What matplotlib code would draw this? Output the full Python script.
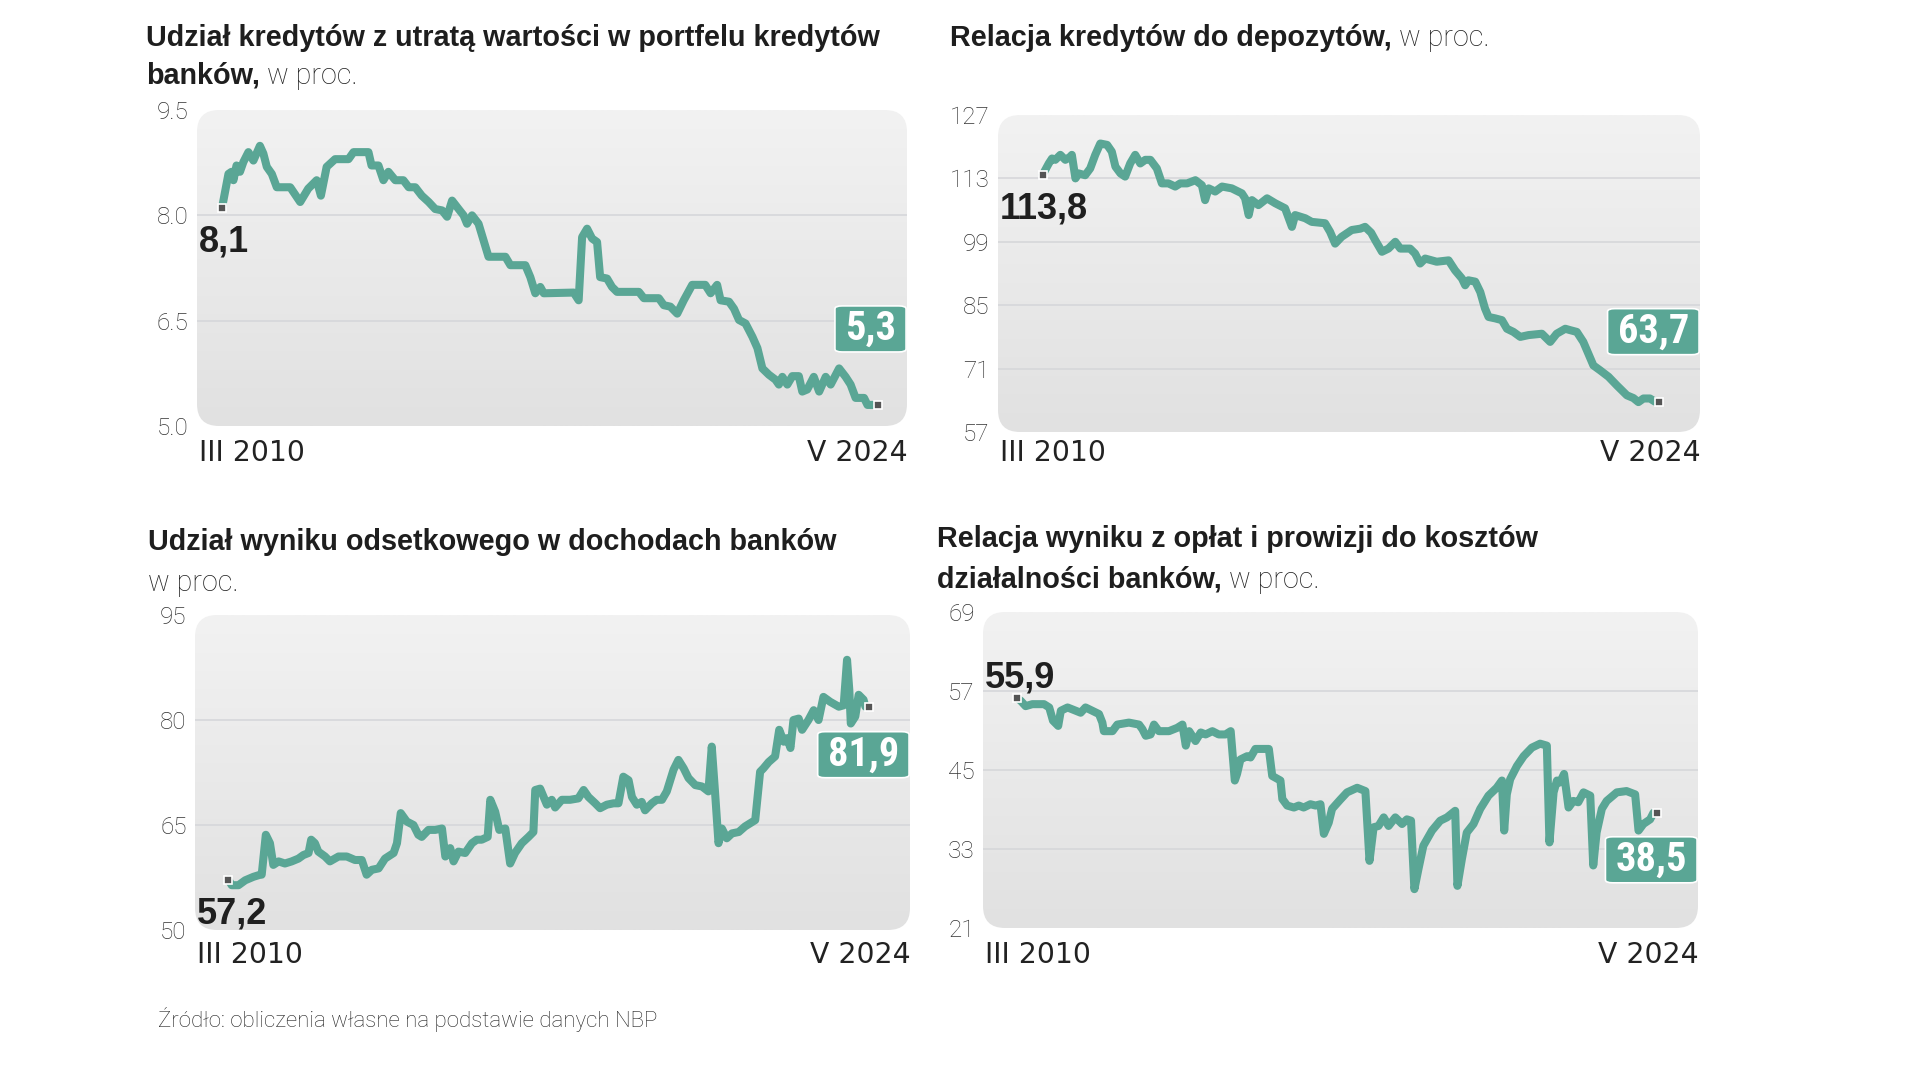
import os
import numpy as np
import matplotlib
matplotlib.use('Agg')
import matplotlib.pyplot as plt
import matplotlib.transforms as mtransforms
from matplotlib.patches import FancyBboxPatch
from matplotlib.colors import LinearSegmentedColormap
from matplotlib import font_manager

# ------------------------------------ Fonts ------------------------------------
names = {f.name for f in font_manager.fontManager.ttflist}
SANS = 'Liberation Sans' if 'Liberation Sans' in names else 'DejaVu Sans'
LIGHT = 'Roboto' if 'Roboto' in names else SANS


def condensed_bold():
    # look for any condensed / narrow bold face among the installed files
    wanted = ['liberationsansnarrow-bold.', 'robotocondensed-bold.', 'notosans-condensedbold.',
              'opensans-condensedbold.', 'dejavusanscondensed-bold.']
    files = [f.fname for f in font_manager.fontManager.ttflist]
    for key in wanted:
        for fn in files:
            if os.path.basename(fn).lower().startswith(key):
                return fn
    return None


COND_FILE = condensed_bold()

# ------------------------------------ Data -------------------------------------
# x = months since III 2010 (0) up to V 2024 (170)
npl_share = [(0, 8.1), (1.7, 8.59), (2.5, 8.62), (3, 8.5), (3.8, 8.71), (4.7, 8.62), (5.6, 8.76),
             (6.9, 8.9), (8.2, 8.78), (9.9, 8.99), (10.8, 8.88), (11.7, 8.69), (13, 8.59), (14.3, 8.4),
             (17.8, 8.4), (20.4, 8.19), (22.5, 8.38), (24.7, 8.5), (25.8, 8.28), (27.3, 8.69), (29.5, 8.8),
             (33, 8.8), (34.3, 8.9), (38.2, 8.9), (39, 8.71), (40.8, 8.71), (42.1, 8.5), (43.4, 8.62),
             (45.2, 8.5), (47.3, 8.5), (48.7, 8.4), (50.4, 8.4), (52.1, 8.28), (53.9, 8.19), (55.6, 8.09),
             (57.4, 8.07), (58.7, 7.98), (60, 8.21), (61.7, 8.09), (63, 8.0), (63.9, 7.88), (65.2, 8.0),
             (66.9, 7.88), (69.5, 7.41), (73.9, 7.41), (75.2, 7.29), (79.1, 7.29), (80.4, 7.12), (81.7, 6.89),
             (83, 6.98), (83.9, 6.89), (91.7, 6.9), (93, 6.79), (93.9, 7.69), (95.2, 7.81), (96.5, 7.67),
             (97.8, 7.62), (98.6, 7.12), (100.4, 7.1), (101.7, 6.98), (103, 6.91), (108.7, 6.91), (110, 6.82),
             (113.9, 6.82), (115.2, 6.72), (116.9, 6.7), (118.7, 6.6), (120.4, 6.79), (122.6, 7.01), (126, 7.01),
             (127.4, 6.89), (129.1, 7.01), (130, 6.79), (132.2, 6.77), (133.5, 6.67), (134.8, 6.51), (136.5, 6.46),
             (138.3, 6.27), (139.6, 6.11), (140.9, 5.82), (142.6, 5.73), (144.3, 5.66), (145.2, 5.59), (146.1, 5.7),
             (147.4, 5.59), (148.7, 5.71), (150.4, 5.71), (151.3, 5.49), (152.6, 5.52), (154.3, 5.7), (155.7, 5.49),
             (157.4, 5.7), (158.7, 5.59), (160.9, 5.82), (162.6, 5.7), (163.9, 5.59), (165.2, 5.4), (167.4, 5.4),
             (168.3, 5.3), (170, 5.3)]

loan_deposit = [(0, 113.8), (1.7, 116.3), (2.6, 117.4), (3.5, 117.1), (4.9, 118.2), (6.3, 117.1), (7.7, 117.8),
                (8.1, 118.2), (9.1, 113.0), (10, 114.1), (11.8, 113.7), (13.2, 115.2), (14.6, 118.2), (16, 120.7),
                (17.9, 120.4), (19.2, 118.9), (20.2, 115.6), (21.6, 114.1), (22.9, 113.4), (24.3, 116.3),
                (25.7, 118.2), (27.1, 116.3), (28.5, 117.1), (29.9, 117.1), (31.7, 115.2), (33.1, 111.9),
                (34.9, 111.9), (36.8, 111.2), (38.2, 111.9), (40.1, 111.9), (42.4, 112.6), (44.2, 111.5),
                (45.1, 108.2), (46.1, 110.8), (47.9, 110.1), (49.8, 111.2), (52.5, 110.8), (55.3, 109.7),
                (56.2, 108.6), (57.2, 104.9), (58.1, 108.2), (59.9, 107.1), (62.3, 108.6), (64.6, 107.5),
                (67.3, 106.4), (69.2, 102.3), (70.1, 104.9), (72.9, 104.2), (74.7, 103.4), (78.4, 103.1),
                (79.8, 101.2), (81.2, 98.6), (83, 100.1), (85.8, 101.6), (88.2, 101.9), (89.5, 102.3),
                (91.2, 101.0), (92.3, 99.4), (94.2, 96.8), (96, 97.5), (97.9, 99.0), (99.3, 97.5), (102, 97.5),
                (103.4, 96.4), (104.8, 94.2), (106.2, 95.3), (109.4, 94.6), (112.7, 94.9), (114.5, 92.7),
                (116.4, 90.9), (117.3, 89.4), (118.2, 90.5), (120.1, 90.2), (121.5, 87.9), (122.8, 84.3),
                (123.8, 82.4), (125.6, 82.1), (127.5, 81.7), (128.9, 79.8), (130.7, 79.1), (132.6, 78.0),
                (134.9, 78.4), (138.6, 78.7), (140, 77.6), (140.9, 76.9), (142.7, 78.7), (145.1, 79.8),
                (146.4, 79.5), (148.3, 79.1), (150.1, 76.9), (151.5, 74.3), (152.9, 71.7), (154.8, 70.6),
                (157.1, 69.2), (159.4, 67.3), (162.2, 65.1), (164, 64.5), (165.4, 63.6), (166.8, 64.4),
                (168.6, 64.4), (170, 63.7)]

nii_share = [(0, 57.2), (0.9, 56.4), (2.7, 56.4), (4.5, 57.1), (6.7, 57.6), (8.5, 57.9), (8.9, 57.9), (10, 63.6),
             (11.1, 62.4), (12, 59.3), (13.4, 59.8), (15.1, 59.5), (16.9, 59.8), (18.7, 60.2), (20, 60.7),
             (21.4, 61.0), (22.1, 62.9), (23.1, 62.4), (24, 61.2), (25.8, 60.5), (27.1, 59.8), (29.4, 60.5),
             (31.6, 60.5), (33.8, 60.0), (35.6, 60.0), (36.9, 57.9), (38.3, 58.6), (40.1, 58.8), (41.8, 60.2),
             (44.1, 61.0), (45, 62.4), (46, 66.7), (47.6, 65.5), (49.4, 65.0), (50.7, 63.6), (51.6, 63.3),
             (53.4, 64.3), (55.2, 64.3), (57, 64.5), (57.9, 60.5), (59.2, 61.7), (60.1, 59.8), (61.4, 61.2),
             (63.2, 61.0), (65, 62.4), (66.3, 62.9), (67.6, 62.9), (69.2, 63.3), (69.9, 68.6), (71.2, 66.9),
             (72.3, 64.3), (73.9, 64.5), (75.2, 59.5), (76.5, 61.0), (78.3, 62.4), (80.1, 63.3), (81.4, 64.0),
             (81.9, 70.0), (83.2, 70.2), (85, 67.9), (86.3, 68.6), (87.2, 67.5), (89, 68.6), (91.2, 68.6),
             (93.4, 68.8), (94.8, 70.0), (96.1, 69.0), (97.9, 68.1), (99.2, 67.4), (101, 67.9), (102.8, 68.1),
             (104.1, 68.1), (105.4, 71.9), (106.8, 71.4), (107.7, 69.0), (109, 67.9), (110.3, 68.3),
             (111.2, 67.1), (113, 68.1), (114.3, 68.6), (115.7, 68.6), (117, 69.8), (118.8, 72.9), (120.1, 74.3),
             (121.5, 73.1), (122.8, 71.7), (124.6, 70.7), (126.4, 70.5), (128.1, 69.8), (129, 76.2),
             (129.9, 69.5), (130.8, 62.4), (131.7, 64.5), (133, 63.1), (134.4, 63.8), (136.2, 64.0),
             (137.9, 64.8), (140.6, 65.7), (141.9, 72.6), (142.8, 73.1), (144.2, 74.0), (145.9, 74.8),
             (147, 78.6), (148.2, 76.9), (149.1, 77.4), (150, 76.0), (150.8, 80.0), (152.2, 80.2), (153.1, 78.6),
             (154.8, 80.0), (156.2, 81.4), (157.5, 80.0), (158.8, 83.3), (160.6, 82.6), (162.9, 81.9),
             (164.2, 82.1), (165.1, 88.6), (165.7, 84.3), (166.1, 79.5), (167.3, 80.5), (168.2, 83.6),
             (169.5, 82.9), (170, 81.9)]

fee_cost = [(0, 55.9), (0.9, 55.5), (2.2, 54.7), (4, 55.0), (7.1, 55.0), (8.5, 54.5), (9.5, 52.5), (10.9, 51.7),
            (11.6, 54.0), (13.4, 54.5), (15.6, 54.0), (16.9, 53.7), (18.2, 54.5), (20, 54.0), (21.8, 53.5),
            (22.7, 52.2), (23.1, 50.9), (25.4, 50.9), (26.7, 51.9), (29.8, 52.2), (32.5, 51.9), (33.4, 51.2),
            (34.3, 50.2), (35.6, 50.4), (36.5, 51.9), (37.8, 50.9), (40.5, 50.9), (42.7, 51.4), (44.1, 51.9),
            (45, 48.7), (45.9, 50.9), (47.6, 49.4), (49, 50.7), (50.3, 50.4), (52.1, 50.9), (53.8, 50.4),
            (55.6, 50.4), (57, 50.9), (58.1, 43.4), (58.7, 44.4), (59.6, 46.6), (61.4, 47.1), (62.3, 46.9),
            (63.6, 48.2), (65.4, 48.2), (67.2, 48.2), (68.1, 44.1), (70.3, 43.4), (70.8, 40.6), (72.1, 39.6),
            (73.9, 39.3), (75.2, 39.6), (76.5, 39.3), (78.3, 39.8), (79.7, 39.6), (81, 39.8), (81.9, 35.3),
            (83.2, 37.0), (84.1, 39.1), (86.3, 40.5), (88.1, 41.6), (90.8, 42.3), (93, 41.8), (94.1, 31.2),
            (95.2, 36.3), (96.5, 36.5), (97.9, 37.8), (99.2, 36.5), (101, 37.8), (102.8, 36.8), (104.1, 37.5),
            (105.2, 37.3), (106.1, 26.9), (107.2, 30.0), (108.5, 33.5), (110.8, 35.8), (113, 37.3),
            (114.8, 37.8), (117, 38.8), (117.6, 27.4), (118.8, 31.5), (120.1, 35.5), (121.9, 36.8),
            (123.7, 39.1), (125.9, 41.1), (128.1, 42.3), (129.5, 43.4), (130.1, 35.8), (130.8, 41.3),
            (131.7, 43.6), (133.5, 45.6), (135.3, 47.1), (137.5, 48.4), (139.7, 49.0), (141.5, 48.7),
            (142.2, 34.0), (143.3, 41.6), (144.2, 43.4), (145, 43.1), (146.1, 44.4), (147.3, 39.3),
            (148.6, 40.3), (149.9, 40.1), (151.3, 41.6), (153.1, 41.1), (153.9, 30.5), (154.8, 35.5),
            (156.2, 39.1), (157.5, 40.3), (160.2, 41.6), (162.8, 41.8), (165.1, 41.3), (166, 35.8),
            (167.3, 36.8), (169.1, 37.5), (170, 38.5)]

y_ticks = [[5.0, 6.5, 8.0, 9.5], [57, 71, 85, 99, 113, 127], [50, 65, 80, 95], [21, 33, 45, 57, 69]]
y_tick_labels = [['5.0', '6.5', '8.0', '9.5'], ['57', '71', '85', '99', '113', '127'],
                 ['50', '65', '80', '95'], ['21', '33', '45', '57', '69']]
start_labels = ['8,1', '113,8', '57,2', '55,9']
end_labels = ['5,3', '63,7', '81,9', '38,5']
x_labels = ('III 2010', 'V 2024')
titles = [
    [[('Udział kredytów z utratą wartości w portfelu kredytów', 'bold')], [('banków,', 'bold'), ('w proc.', 'light')]],
    [[('Relacja kredytów do depozytów,', 'bold'), ('w proc.', 'light')]],
    [[('Udział wyniku odsetkowego w dochodach banków', 'bold')], [('w proc.', 'light')]],
    [[('Relacja wyniku z opłat i prowizji do kosztów', 'bold')], [('działalności banków,', 'bold'), ('w proc.', 'light')]],
]
source = 'Źródło: obliczenia własne na podstawie danych NBP'
series = [npl_share, loan_deposit, nii_share, fee_cost]

# ------------------------------------ Layout (pixels) --------------------------
W, H, DPI = 1920, 1080, 100
TEAL = '#5aa695'
# axes box: left, top, width, height
boxes = [(197, 110, 710, 316), (998, 115, 702, 317), (195, 615, 715, 315), (983, 612, 715, 316)]
xlims = [(-6.5, 178.6), (-12.4, 182.5), (-8.9, 181.9), (-9.2, 181.9)]
title_pos = [(146, [46, 84]), (950, [46]), (148, [550, 591]), (937, [547, 588])]
xlabel_base = [461, 461, 963, 963]
start_dy = [-43.5, -43.5, -43.5, 11]     # baseline offset of start label from the first point
end_dy = [76, 70, -48, -47]              # centre offset of the end box from the last point

fig = plt.figure(figsize=(W / DPI, H / DPI), dpi=DPI)
fig.patch.set_facecolor('white')
renderer = fig.canvas.get_renderer()

bg_cmap = LinearSegmentedColormap.from_list('bg', ['#e1e1e1', '#f2f2f2'])

if COND_FILE:
    box_font = font_manager.FontProperties(fname=COND_FILE, size=29)
else:
    box_font = font_manager.FontProperties(family=SANS, weight='bold', size=24)


def px_text(x, y, s, **kw):
    return fig.text(x / W, 1 - y / H, s, **kw)


for i, data in enumerate(series):
    l, t, w, h = boxes[i]
    ax = fig.add_axes([l / W, 1 - (t + h) / H, w / W, h / H])
    ax.patch.set_visible(False)
    for sp in ax.spines.values():
        sp.set_visible(False)

    # rounded gradient panel
    r = 22
    frame = FancyBboxPatch((0, 0), 1, 1, boxstyle='round,pad=0,rounding_size=%f' % (r / w),
                           mutation_aspect=w / h, transform=ax.transAxes,
                           facecolor='none', edgecolor='none')
    ax.add_patch(frame)
    grad = np.linspace(0, 1, 256).reshape(-1, 1)
    im = ax.imshow(grad, extent=(0, 1, 0, 1), transform=ax.transAxes, origin='lower',
                   cmap=bg_cmap, aspect='auto', zorder=0, interpolation='bilinear')
    im.set_clip_path(frame)

    ticks = y_ticks[i]
    for v in ticks[1:-1]:
        ax.axhline(v, color='#d6d7da', lw=1.2, zorder=1)

    xs = [p[0] for p in data]
    ys = [p[1] for p in data]
    ax.plot(xs, ys, color=TEAL, lw=5.8, solid_joinstyle='round', solid_capstyle='round', zorder=3)
    for j, dx in ((0, 0), (-1, 4)):
        mk_tr = ax.transData + mtransforms.ScaledTranslation(dx / DPI, 0, fig.dpi_scale_trans)
        ax.plot([xs[j]], [ys[j]], marker='s', ms=6, mfc='#555555', mec='white', mew=1.2,
                zorder=5, clip_on=False, transform=mk_tr)

    ax.set_xlim(*xlims[i])
    ax.set_ylim(ticks[0], ticks[-1])
    ax.set_xticks([])
    ax.set_yticks(ticks)
    ax.set_yticklabels(y_tick_labels[i], fontfamily=LIGHT, fontweight='light', fontsize=17.5, color='#333333')
    ax.tick_params(axis='y', length=0, pad=6)

    blend = mtransforms.blended_transform_factory(ax.transAxes, ax.transData)
    st_tr = blend + mtransforms.ScaledTranslation(2 / DPI, start_dy[i] / DPI, fig.dpi_scale_trans)
    ax.text(0, ys[0], start_labels[i], transform=st_tr, ha='left', va='baseline',
            fontsize=26, fontweight='bold', fontfamily=SANS, color='#1f1f1f', zorder=6)

    en_tr = blend + mtransforms.ScaledTranslation(-11 / DPI, end_dy[i] / DPI, fig.dpi_scale_trans)
    ax.text(1, ys[-1], end_labels[i], transform=en_tr, ha='right', va='center',
            fontproperties=box_font, color='white', zorder=7,
            bbox=dict(boxstyle='round,pad=0.25,rounding_size=0.18', fc=TEAL, ec='white', lw=1.2,
                      mutation_aspect=0.4))

    # period labels under the panel
    yb = xlabel_base[i]
    px_text(l + 2, yb, x_labels[0], ha='left', va='baseline', fontsize=20.3,
            fontfamily='DejaVu Sans', color='#222222')
    px_text(l + w + 1, yb, x_labels[1], ha='right', va='baseline', fontsize=20.3,
            fontfamily='DejaVu Sans', color='#222222')

    # title, bold part followed by light unit
    tx, baselines = title_pos[i]
    for line, yb in zip(titles[i], baselines):
        x = tx
        for k, (s, weight) in enumerate(line):
            if weight == 'bold':
                txt = px_text(x, yb, s, fontsize=20.7, fontweight='bold', fontfamily=SANS,
                              color='#1e1e1e', va='baseline', ha='left')
            else:
                if k > 0:
                    x += 7
                txt = px_text(x, yb, s, fontsize=20.7, fontweight='light', fontfamily=LIGHT,
                              color='#222222', va='baseline', ha='left')
            x += txt.get_window_extent(renderer=renderer).width

px_text(158, 1027, source, fontsize=16, fontweight='light', fontfamily=LIGHT, color='#222222',
        va='baseline', ha='left')

fig.savefig('out.png', dpi=DPI, facecolor='white')
